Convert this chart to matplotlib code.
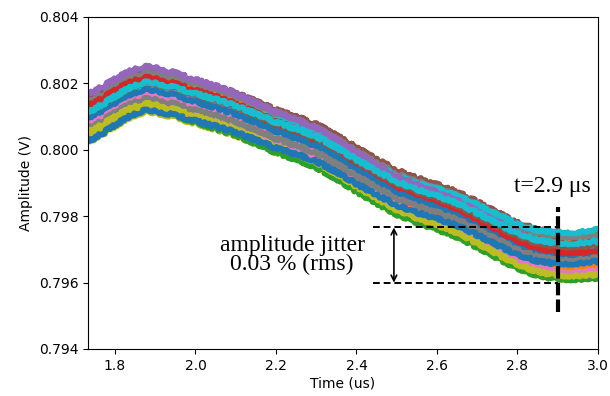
import matplotlib
matplotlib.use("Agg")
import matplotlib.pyplot as plt
import numpy as np

# Time knots (us) and the centre of the trace bundle (V)
time_us = [1.733, 1.77, 1.80, 1.835, 1.87, 1.90, 1.93, 1.96, 2.00, 2.05,
           2.10, 2.15, 2.20, 2.25, 2.30, 2.35, 2.40, 2.45, 2.50, 2.55,
           2.60, 2.65, 2.70, 2.75, 2.80, 2.85, 2.90, 2.95, 3.00]
center_v = [0.80093, 0.80117, 0.80140, 0.80165, 0.80181, 0.80178, 0.80170,
            0.80160, 0.80145, 0.80127, 0.80107, 0.80082, 0.80056, 0.80035,
            0.80012, 0.79978, 0.79940, 0.79905, 0.79872, 0.79848, 0.79828,
            0.79805, 0.79775, 0.79742, 0.79712, 0.79690, 0.79680, 0.79680,
            0.79684]

# Offset of each captured trace from the bundle centre at the start / end of the window (V)
offset_start = [
    0.00055, 0.00010, -0.00050, 0.00060, 0.00050, 0.00040, -0.00030, 0.00030, -0.00060, 0.00000,
    -0.00010, -0.00020, -0.00040, 0.00020, 0.00070, 0.00060, -0.00050, 0.00010, -0.00070, 0.00030,
    -0.00030, 0.00040, -0.00060, -0.00010, 0.00030, 0.00070, -0.00010, 0.00050, -0.00050, 0.00010,
    0.00000, -0.00040, 0.00020, 0.00040, 0.00075, 0.00020, -0.00020, -0.00030, -0.00040, 0.00020,
    -0.00068,
]
offset_end = [
    0.00030, 0.00020, -0.00060, 0.00070, 0.00010, 0.00060, -0.00040, 0.00040, -0.00070, 0.00020,
    -0.00020, 0.00000, -0.00030, -0.00070, 0.00050, 0.00070, -0.00060, 0.00010, -0.00050, 0.00060,
    0.00010, 0.00050, -0.00070, 0.00030, -0.00060, 0.00040, -0.00020, 0.00060, -0.00040, 0.00075,
    0.00000, -0.00030, 0.00030, 0.00010, 0.00030, 0.00030, -0.00050, -0.00010, -0.00060, 0.00040,
    -0.00020,
]

x_min, x_max = 1.733, 3.0
y_min, y_max = 0.794, 0.804
x_ticks = [1.8, 2.0, 2.2, 2.4, 2.6, 2.8, 3.0]
y_ticks = [0.794, 0.796, 0.798, 0.800, 0.802, 0.804]

jitter_top, jitter_bottom = 0.79766, 0.79600
marker_time = 2.9

fig = plt.figure(figsize=(6.1, 3.96), dpi=100)
ax = fig.add_axes([88/610, 47/396, 510/610, 332/396])

t = np.array(time_us)
c = np.array(center_v)
w = (t - t[0]) / (t[-1] - t[0])
for o0, o1 in zip(offset_start, offset_end):
    line, = ax.plot(t, c + o0 * (1 - w) + o1 * w, lw=3.8,
                    solid_capstyle='round', solid_joinstyle='round')
    line.set_sketch_params(scale=1.5, length=5, randomness=8)

ax.set_xlim(x_min, x_max)
ax.set_ylim(y_min, y_max)
ax.set_xticks(x_ticks)
ax.set_yticks(y_ticks)
ax.set_xticklabels([f"{v:.1f}" for v in x_ticks])
ax.set_yticklabels([f"{v:.3f}" for v in y_ticks])
ax.set_xlabel("Time (us)", fontsize=10, labelpad=3)
ax.set_ylabel("Amplitude (V)", fontsize=10, labelpad=4)
ax.tick_params(labelsize=10)

serif = ['Liberation Serif', 'DejaVu Serif']
# horizontal dashed jitter bounds
for yv in (jitter_top, jitter_bottom):
    ax.plot([2.441, marker_time], [yv, yv], color='black', lw=1.4,
            linestyle=(0, (3.5, 2)), zorder=5)
# vertical thick dashed marker
ax.plot([marker_time, marker_time], [0.79511, 0.79828], color='black', lw=3,
        linestyle=(0, (3, 1)), zorder=6)
# double arrow
ax.annotate('', xy=(2.493, jitter_bottom), xytext=(2.493, jitter_top),
            arrowprops=dict(arrowstyle='<->', color='black', lw=1.2,
                            shrinkA=0, shrinkB=0, mutation_scale=10), zorder=6)
ax.text(2.240, 0.79683, "amplitude jitter\n0.03 % (rms)", family=serif,
        fontsize=17, ha='center', va='center', multialignment='center',
        linespacing=0.92)
ax.text(2.886, 0.79888, "t=2.9 μs", family=serif, fontsize=17,
        ha='center', va='center')

fig.savefig("out.png", dpi=100)
